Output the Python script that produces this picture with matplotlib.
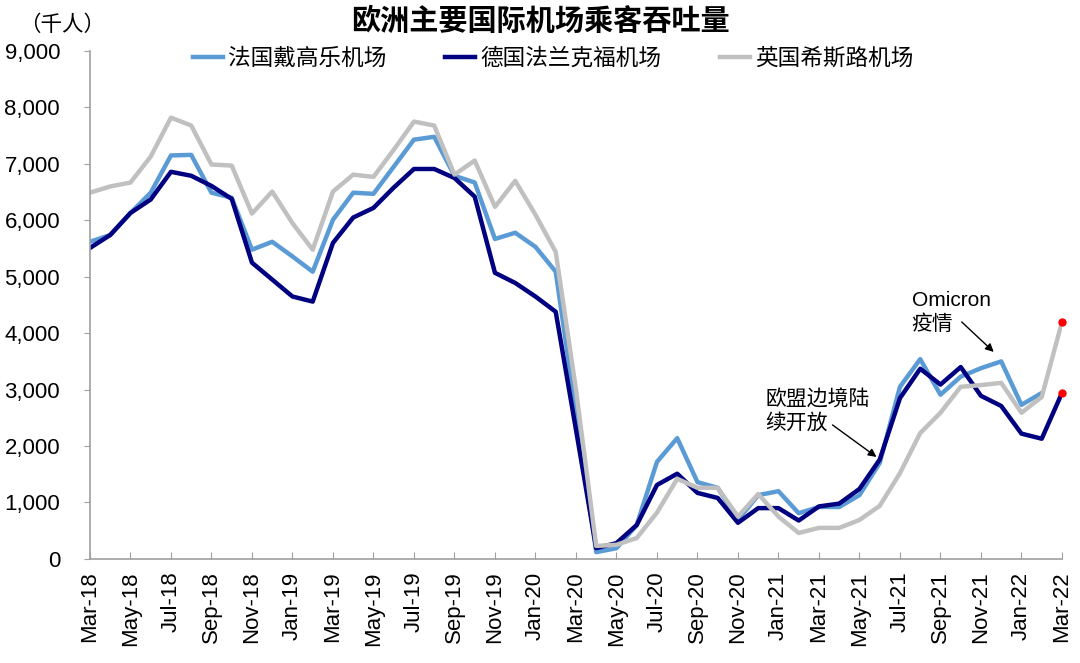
import matplotlib
matplotlib.use("Agg")
import matplotlib.pyplot as plt
from matplotlib.ticker import FuncFormatter

plt.rcParams['font.family'] = ['Liberation Sans', 'Noto Sans CJK SC', 'DejaVu Sans']

months = ['Mar-18', 'Apr-18', 'May-18', 'Jun-18', 'Jul-18', 'Aug-18', 'Sep-18', 'Oct-18',
          'Nov-18', 'Dec-18', 'Jan-19', 'Feb-19', 'Mar-19', 'Apr-19', 'May-19', 'Jun-19',
          'Jul-19', 'Aug-19', 'Sep-19', 'Oct-19', 'Nov-19', 'Dec-19', 'Jan-20', 'Feb-20',
          'Mar-20', 'Apr-20', 'May-20', 'Jun-20', 'Jul-20', 'Aug-20', 'Sep-20', 'Oct-20',
          'Nov-20', 'Dec-20', 'Jan-21', 'Feb-21', 'Mar-21', 'Apr-21', 'May-21', 'Jun-21',
          'Jul-21', 'Aug-21', 'Sep-21', 'Oct-21', 'Nov-21', 'Dec-21', 'Jan-22', 'Feb-22',
          'Mar-22']

# 法国戴高乐机场 (no Mar-22 value)
paris = [5620, 5740, 6130, 6490, 7150, 7160, 6490, 6400, 5480, 5620, 5360, 5090,
         6010, 6490, 6470, 6950, 7430, 7480, 6790, 6670, 5670, 5780, 5530, 5090,
         2600, 120, 190, 600, 1720, 2140, 1360, 1260, 690, 1130, 1200, 810,
         920, 920, 1130, 1700, 3050, 3540, 2910, 3230, 3380, 3500, 2730, 2940]
# 德国法兰克福机场
frankfurt = [5510, 5740, 6130, 6370, 6860, 6790, 6610, 6380, 5250, 4950, 4650, 4560,
             5600, 6050, 6220, 6580, 6910, 6910, 6750, 6420, 5070, 4890, 4650, 4380,
             2290, 190, 280, 600, 1310, 1510, 1170, 1080, 640, 900, 900, 680,
             930, 980, 1240, 1760, 2850, 3370, 3090, 3400, 2890, 2710, 2220, 2130, 2940]
# 英国希斯路机场
heathrow = [6490, 6600, 6670, 7130, 7820, 7680, 6990, 6970, 6120, 6510, 5950, 5480,
            6510, 6810, 6770, 7250, 7750, 7680, 6810, 7060, 6240, 6700, 6100, 5440,
            3000, 230, 250, 370, 820, 1420, 1260, 1260, 750, 1150, 750, 460,
            550, 550, 690, 940, 1520, 2230, 2590, 3050, 3080, 3120, 2590, 2870, 4200]

x = list(range(len(months)))

fig = plt.figure(figsize=(10.8, 6.63), dpi=100)
ax = fig.add_axes([0.0833, 0.157, 0.9, 0.766])

ax.plot(x[:len(paris)], paris, color='#5B9BD5', linewidth=3.2, label='法国戴高乐机场')
ax.plot(x, frankfurt, color='#000080', linewidth=3.2, label='德国法兰克福机场')
ax.plot(x, heathrow, color='#C0C0C0', linewidth=3.2, label='英国希斯路机场')
# 最新值红点
ax.plot([x[-1], x[-1]], [heathrow[-1], frankfurt[-1]], 'o', color='red',
        markersize=5, zorder=5, clip_on=False)

ax.set_xlim(0, len(months) - 1)
ax.set_ylim(0, 9000)
ax.set_yticks(range(0, 9001, 1000))
ax.yaxis.set_major_formatter(FuncFormatter(lambda v, p: f'{int(v):,}'))
ax.set_xticks(x[::2])
ax.set_xticklabels(months[::2], rotation=90, fontsize=16)
ax.tick_params(axis='y', labelsize=16, direction='out', length=4.5, color='#A0A0A0', pad=17)
ax.tick_params(axis='x', direction='in', length=5, color='#A0A0A0', pad=9)

for s in ['top', 'right']:
    ax.spines[s].set_visible(False)
for s in ['left', 'bottom']:
    ax.spines[s].set_color('#A0A0A0')
    ax.spines[s].set_linewidth(1.2)

fig.legend(*ax.get_legend_handles_labels(), loc='center', bbox_to_anchor=(0.512, 1 - 58 / 663),
           ncol=3, frameon=False, fontsize=16.3, handlelength=1.35, columnspacing=2.6,
           handletextpad=0.2, borderaxespad=0)

fig.text(0.5, 1 - 22 / 663, '欧洲主要国际机场乘客吞吐量', ha='center', va='center',
         fontsize=21, fontweight='bold')
fig.text(0.018, 1 - 25 / 663, '（千人）', ha='left', va='center', fontsize=15.5)

ax.text(40.57, 4370, 'Omicron\n疫情', fontsize=15, ha='left', va='center', linespacing=1.25)
ax.annotate('', xy=(44.63, 3668), xytext=(43.05, 4199),
            arrowprops=dict(arrowstyle='-|>', color='black', lw=1, mutation_scale=12,
                            shrinkA=0, shrinkB=0))
ax.text(33.35, 2620, '欧盟边境陆\n续开放', fontsize=15, ha='left', va='center', linespacing=1.25)
ax.annotate('', xy=(38.84, 1807), xytext=(36.67, 2374),
            arrowprops=dict(arrowstyle='-|>', color='black', lw=1, mutation_scale=12,
                            shrinkA=0, shrinkB=0))

fig.savefig('out.png', dpi=100)
